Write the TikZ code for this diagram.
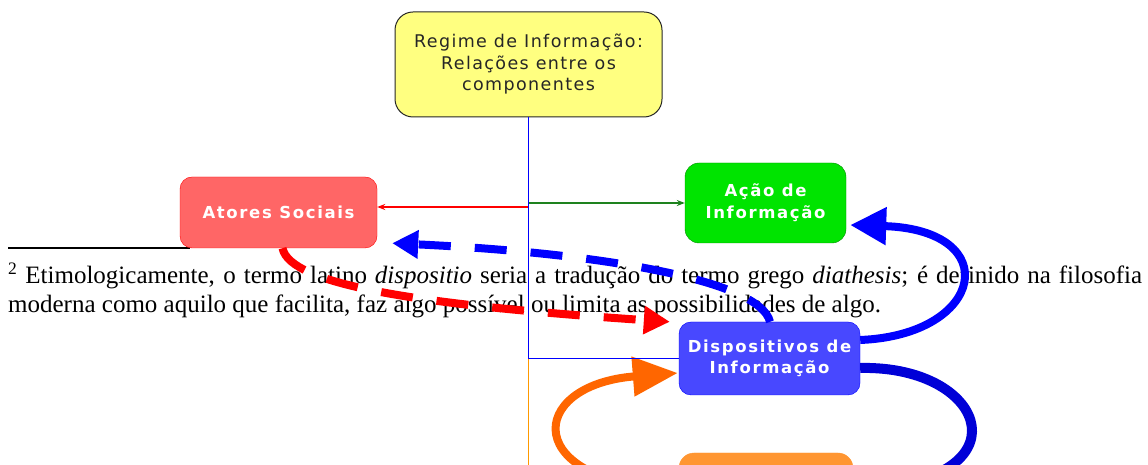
\documentclass[tikz,border=0pt]{standalone}
\usepackage{fontspec}
\setmainfont{Liberation Serif}
\newfontfamily\regimefont[LetterSpace=8]{DejaVu Sans}
\newfontfamily\boxfont[LetterSpace=10]{DejaVu Sans}
\usetikzlibrary{arrows.meta}

\definecolor{regimeyellow}{RGB}{255,255,128}
\definecolor{atoresred}{RGB}{255,102,102}
\definecolor{acaogreen}{RGB}{0,228,0}
\definecolor{acaoborder}{RGB}{0,140,0}
\definecolor{linegreen}{RGB}{30,130,30}
\definecolor{dispblue}{RGB}{72,72,255}
\definecolor{boxorange}{RGB}{255,150,50}
\definecolor{lineorange}{RGB}{255,153,0}
\definecolor{arcorange}{RGB}{255,102,0}
\definecolor{arcblue}{RGB}{0,0,215}

\begin{document}
\begin{tikzpicture}[x=1pt, y=1pt, >={Stealth[length=8pt,width=6pt]},
  every box/.style={rounded corners=12pt, align=center, inner sep=0pt},
  regime box/.style={every box, draw=black!85, line width=1pt, fill=regimeyellow,
    rounded corners=18pt, minimum width=267pt, minimum height=105pt,
    text=black!85, font=\regimefont\fontsize{17.5}{21.5}\selectfont},
  white box/.style={every box, text=white, font=\boxfont\bfseries\fontsize{16.5}{21.7}\selectfont},
  atores box/.style={white box, draw=red, fill=atoresred, minimum width=197pt, minimum height=71pt},
  acao box/.style={white box, draw=acaoborder, fill=acaogreen, rounded corners=14pt, minimum width=161pt, minimum height=80pt},
  disp box/.style={white box, draw=blue, fill=dispblue, minimum width=181pt, minimum height=73pt},
  orange box/.style={every box, draw=boxorange, fill=boxorange, rounded corners=15pt, minimum width=174pt, minimum height=73pt},
  footnote/.style={inner sep=0pt, anchor=base west, font=\fontsize{25}{29}\selectfont},
  thin link/.style={line width=1.4pt},
  dash arrow/.style={line width=8pt, dash pattern=on 32pt off 24pt, -{Triangle[length=26pt,width=27pt]}},
  thick arrow/.style={line width=8pt}]

\useasboundingbox (0,0) rectangle (1148,465);
\clip (0,0) rectangle (1148,465);

% nota de rodape
\draw [line width=1.5pt] (8,217) -- (190,217);
\node [footnote] (nota-1) at (8,181) {\makebox[1134pt][s]{\textsuperscript{2} Etimologicamente, o termo latino \textit{dispositio} seria a tradução do termo grego \textit{diathesis}; é definido na filosofia}};
\node [footnote] (nota-2) at (8,152) {moderna como aquilo que facilita, faz algo possível ou limita as possibilidades de algo.};

% componentes
\node [regime box] (regime) at (528.5,400.5) {Regime de Informação:\\Relações entre os\\componentes};
\node [atores box] (atores) at (278.5,252.5) {Atores Sociais};
\node [acao box] (acao) at (765.5,262) {Ação de\\Informação};
\node [disp box] (disp) at (769.5,106.5) {Dispositivos de\\Informação};
\node [orange box] (laranja) at (766,-24.5) {};

% relacoes
\draw [thick arrow, arcorange, -{Triangle[length=45pt,width=38pt]}]
  (laranja.west) .. controls (520,-20) and (525,80) .. ([xshift=-1pt,yshift=-14.5pt]disp.west);
\draw [thick arrow, blue, -{Triangle[length=36pt,width=36pt]}]
  ([yshift=18.5pt]disp.east) .. controls (985,130) and (1005,235) .. ([xshift=4pt,yshift=-22pt]acao.east);
\draw [thick arrow, arcblue, line width=10pt]
  ([yshift=-9.5pt]disp.east) .. controls (990,100) and (1030,-20) .. (laranja.east);
\draw [dash arrow, red]
  ([xshift=4pt]atores.south) .. controls (290,180) and (420,160) .. ([xshift=-9pt]disp.north west);
\draw [dash arrow, blue]
  ([xshift=0.5pt]disp.north) .. controls (760,185) and (600,212) .. ([xshift=15pt,yshift=5pt]atores.south east);

\draw [thin link, lineorange] (regime.south) |- (laranja.west);
\draw [thin link, red, ->] (regime.south) |- ([yshift=5.5pt]atores.east);
\draw [thin link, linegreen, ->] (regime.south) |- (acao.west);
\draw [line width=1pt, blue] (regime.south) |- (disp.west);

\end{tikzpicture}
\end{document}
